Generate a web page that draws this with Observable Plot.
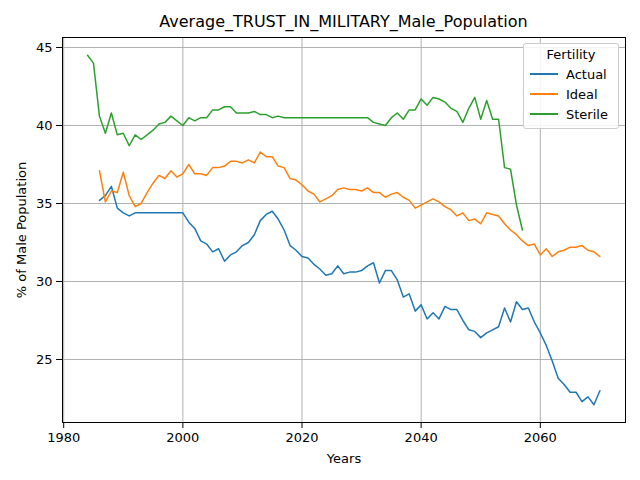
<!DOCTYPE html>
<html><head><meta charset="utf-8">
<script src="https://cdn.jsdelivr.net/npm/d3@7"></script>
<script src="https://cdn.jsdelivr.net/npm/@observablehq/plot@0.6"></script>
<style>
body{margin:0;font-family:"DejaVu Sans",sans-serif;background:#fff}
#wrap{position:relative;width:640px;height:480px}
#title{position:absolute;top:12px;left:62px;width:563px;text-align:center;font-size:16px}
#chart{position:absolute;top:30px;left:0}
#legend{position:absolute;left:523px;top:43px;width:94px;border:1px solid #ccc;border-radius:3px;background:rgba(255,255,255,0.85);font-size:13px;padding:3px 0 4px}
#legend .h{text-align:center;margin-bottom:2px}
#legend .r{display:flex;align-items:center;height:20px;padding-left:6px}
#legend .r span{display:inline-block;width:28px;height:2px;margin-right:8px}
</style></head>
<body><div id="wrap"><div id="title">Average_TRUST_IN_MILITARY_Male_Population</div><div id="chart"></div>
<div id="legend"><div class="h">Fertility</div></div></div>
<script>
const actualYears = d3.range(1986, 2071);
const actual = [35.2,35.5,36.1,34.7,34.4,34.2,34.4,34.4,34.4,34.4,34.4,34.4,34.4,34.4,34.4,33.8,33.4,32.6,32.4,31.9,32.1,31.3,31.7,31.9,32.3,32.5,33.0,33.9,34.3,34.5,34.0,33.3,32.3,32.0,31.6,31.5,31.1,30.8,30.4,30.5,31.0,30.5,30.6,30.6,30.7,31.0,31.2,29.9,30.7,30.7,30.1,29.0,29.2,28.1,28.5,27.6,28.0,27.6,28.4,28.2,28.2,27.5,26.9,26.8,26.4,26.7,26.9,27.1,28.3,27.4,28.7,28.2,28.3,27.4,26.7,25.9,24.9,23.8,23.4,22.9,22.9,22.3,22.6,22.1,23.0];
const ideal = [37.1,35.1,35.8,35.7,37.0,35.5,34.8,35.0,35.7,36.3,36.8,36.6,37.1,36.7,36.9,37.5,36.9,36.9,36.8,37.3,37.3,37.4,37.7,37.7,37.6,37.8,37.6,38.3,38.0,38.0,37.4,37.3,36.6,36.5,36.2,35.8,35.6,35.1,35.3,35.5,35.9,36.0,35.9,35.9,35.8,36.0,35.7,35.7,35.4,35.6,35.7,35.4,35.2,34.7,34.9,35.1,35.3,35.1,34.8,34.6,34.2,34.4,33.9,34.0,33.7,34.4,34.3,34.2,33.7,33.3,33.0,32.6,32.3,32.4,31.7,32.1,31.6,31.9,32.0,32.2,32.2,32.3,32.0,31.9,31.6];
const sterileYears = d3.range(1984, 2058);
const sterile = [44.5,44.0,40.6,39.5,40.8,39.4,39.5,38.7,39.4,39.1,39.4,39.7,40.1,40.2,40.6,40.3,40.0,40.5,40.3,40.5,40.5,41.0,41.0,41.2,41.2,40.8,40.8,40.8,40.9,40.7,40.7,40.5,40.6,40.5,40.5,40.5,40.5,40.5,40.5,40.5,40.5,40.5,40.5,40.5,40.5,40.5,40.5,40.5,40.2,40.1,40.0,40.5,40.8,40.4,41.0,41.0,41.7,41.3,41.8,41.7,41.5,41.1,40.9,40.2,41.1,41.8,40.4,41.6,40.4,40.4,37.3,37.2,34.9,33.3];
const series = ["Actual", "Ideal", "Sterile"];
const colors = ["#1f77b4", "#ff7f0e", "#2ca02c"];

const rows = [
  ...actualYears.map((y, i) => ({year: y, v: actual[i], s: "Actual"})),
  ...actualYears.map((y, i) => ({year: y, v: ideal[i], s: "Ideal"})),
  ...sterileYears.map((y, i) => ({year: y, v: sterile[i], s: "Sterile"}))
];

const chart = Plot.plot({
  width: 640, height: 450,
  marginLeft: 62, marginRight: 15, marginTop: 7, marginBottom: 58,
  style: {fontFamily: "DejaVu Sans", fontSize: "13px", color: "#000"},
  x: {domain: [1979.8, 2074.3], ticks: [1980, 2000, 2020, 2040, 2060], tickFormat: d => String(d), label: "Years", labelAnchor: "center", labelArrow: "none", labelOffset: 40, tickPadding: 4},
  y: {domain: [20.96, 45.64], ticks: [25, 30, 35, 40, 45], label: "% of Male Population", labelAnchor: "center", labelArrow: "none", labelOffset: 46, tickPadding: 4},
  color: {domain: series, range: colors},
  marks: [
    Plot.gridX([1980, 2000, 2020, 2040, 2060], {stroke: "#b0b0b0", strokeOpacity: 1}),
    Plot.gridY([25, 30, 35, 40, 45], {stroke: "#b0b0b0", strokeOpacity: 1}),
    Plot.line(rows, {x: "year", y: "v", z: "s", stroke: "s", strokeWidth: 1.5}),
    Plot.frame({stroke: "#000"})
  ]
});
d3.select("#chart").append(() => chart);

const lg = d3.select("#legend");
series.forEach((s, i) => {
  const r = lg.append("div").attr("class", "r");
  r.append("span").style("background", colors[i]);
  r.append("text").text(s);
});
</script></body></html>
